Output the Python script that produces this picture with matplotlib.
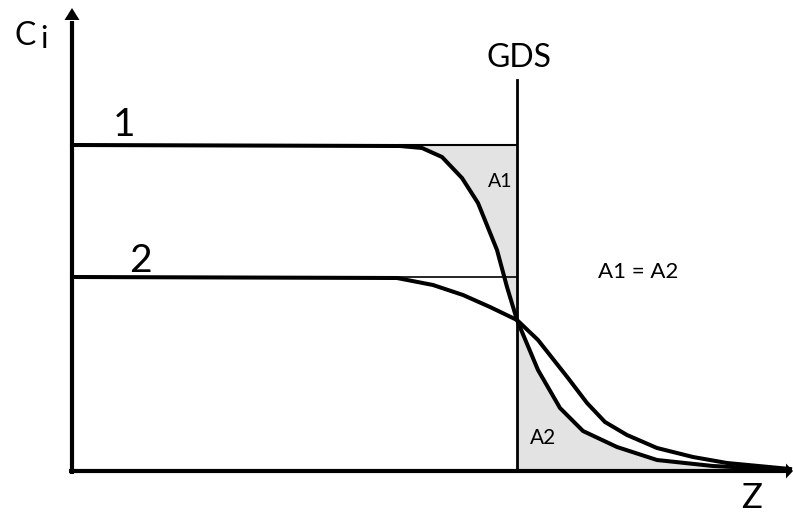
import numpy as np
import matplotlib
matplotlib.use("Agg")
import matplotlib.pyplot as plt

# Concentration profiles near the Gibbs dividing surface (GDS)
level_1 = 326          # bulk concentration, profile 1
level_2 = 194          # bulk concentration, profile 2
z_gds = 445            # position of the dividing surface

z_1 = [0, 328, 350, 370, 390, 406, 425, 435, 445, 466, 488, 511, 545, 585, 641, 718]
c_1 = [326, 325, 323, 314, 293, 268, 221, 184, 151, 101, 63, 40, 24, 11, 5, 1]

z_2 = [0, 325, 361, 391, 418, 445, 466, 496, 515, 533, 555, 585, 621, 655, 718]
c_2 = [194, 193, 186, 176, 164, 151, 131, 93, 68, 49, 36, 23, 14, 8, 2]

plt.rcParams['font.family'] = ['Lato', 'DejaVu Sans']

fig = plt.figure(figsize=(7.93, 5.14), dpi=100)
ax = fig.add_axes([0, 0, 1, 1])
ax.set_xlim(-72, 721)
ax.set_ylim(-43, 471)
ax.axis('off')

z1 = np.array(z_1, float)
c1 = np.array(c_1, float)

# shaded excess areas A1 (left of GDS) and A2 (right of GDS)
left = (z1 >= 328) & (z1 <= z_gds)
ax.fill_between(z1[left], c1[left], level_1, color='#e3e3e3', lw=0, zorder=1)
right = z1 >= z_gds
ax.fill_between(z1[right], 0, c1[right], color='#e3e3e3', lw=0, zorder=1)

# thin continuation of bulk levels up to the GDS
ax.plot([328, z_gds], [level_1, level_1], color='black', lw=1.5, zorder=2)
ax.plot([325, z_gds], [level_2, level_2], color='black', lw=1.2, zorder=2)

# dividing surface
ax.plot([z_gds, z_gds], [0, 391], color='black', lw=2.0, zorder=3)

# profiles
ax.plot(z_1, c_1, color='black', lw=2.9, solid_joinstyle='miter', zorder=4)
ax.plot(z_2, c_2, color='black', lw=2.9, solid_joinstyle='miter', zorder=4)

# axes with arrows
ax.plot([0, 0], [-3, 450], color='black', lw=3.0, solid_capstyle='butt', zorder=5)
ax.plot([-3, 714], [0, 0], color='black', lw=3.0, solid_capstyle='butt', zorder=5)
ax.fill([-7.5, 7.5, 0], [451, 451, 463], color='black', lw=0, zorder=5)
ax.fill([714, 714, 721], [-7.5, 7.5, 0], color='black', lw=0, zorder=5)

# labels
ax.text(-58, 426, 'C', fontsize=23, ha='left', va='baseline')
ax.text(-32, 423, 'i', fontsize=22, ha='left', va='baseline')
ax.text(52, 335, '1', fontsize=28, ha='center', va='baseline')
ax.text(68, 199, '2', fontsize=28, ha='center', va='baseline')
ax.text(z_gds + 2, 404, 'GDS', fontsize=23, ha='center', va='baseline')
ax.text(440, 284, 'A1', fontsize=14, ha='right', va='baseline')
ax.text(458, 27, 'A2', fontsize=15, ha='left', va='baseline')
ax.text(526, 193, 'A1 = A2', fontsize=16, ha='left', va='baseline')
ax.text(680, -43, 'Z', fontsize=25, ha='center', va='bottom')

fig.savefig('out.png', dpi=100)
